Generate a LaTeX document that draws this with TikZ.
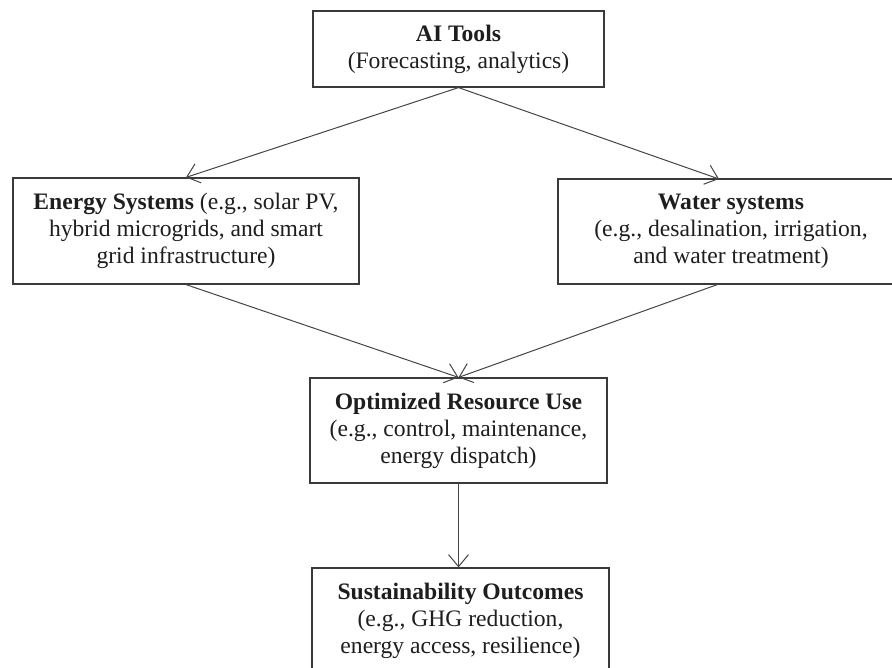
\documentclass[tikz,border=0pt]{standalone}
\usepackage{fontspec}
\setmainfont{Liberation Serif}
\usetikzlibrary{positioning, shapes.geometric}
\usetikzlibrary{arrows, arrows.meta}
\definecolor{boxline}{HTML}{3A3A3A}
\definecolor{arrline}{HTML}{454545}
\definecolor{txt}{HTML}{1E1E1E}
\tikzset{ stagebox/.style={draw=boxline, line width=1.2pt, fill=white,
          text=txt, align=center, inner sep=0pt,
          font=\fontsize{23.6}{27}\selectfont},
        arr/.style={draw=arrline, line width=1pt,
          -{Straight Barb[length=12pt, width=20pt, line width=1pt]}} }

\begin{document}
\begin{tikzpicture}[x=1pt, y=1pt]

\clip (0,0) rectangle (892,-668);
\fill[white] (0,0) rectangle (892,-668);

\node[stagebox, minimum width=291pt, minimum height=76pt] (ai) at (458.5,-49)
  {\textbf{AI Tools}\\(Forecasting, analytics)};
\node[stagebox, minimum width=346pt, minimum height=106pt] (energy) at (186,-231)
  {\textbf{Energy Systems} (e.g., solar PV,\\ hybrid microgrids, and smart\\ grid infrastructure)};
\node[stagebox, minimum width=346pt, minimum height=105pt] (water) at (731,-231.5)
  {\textbf{Water systems}\\(e.g., desalination, irrigation,\\ and water treatment)};
\node[stagebox, minimum width=297pt, minimum height=105pt] (opt) at (458.5,-430.5)
  {\textbf{Optimized Resource Use}\\(e.g., control, maintenance,\\ energy dispatch)};
\node[stagebox, minimum width=297pt, minimum height=105pt] (sus) at (460.5,-620.5)
  {\textbf{Sustainability Outcomes}\\(e.g., GHG reduction,\\ energy access, resilience)};

\coordinate (wtop) at (719,-179); %water box, arrow in
\coordinate (wbot) at (719,-284); %water box, arrow out
\coordinate (stop) at (opt.south |- sus.north); %outcomes box, arrow in

\foreach \x/\y in {ai.south/energy.north, ai.south/wtop,
                   energy.south/opt.north, wbot/opt.north,
                   opt.south/stop} %arrows
  \draw[arr] (\x)--(\y);

\end{tikzpicture}
\end{document}
